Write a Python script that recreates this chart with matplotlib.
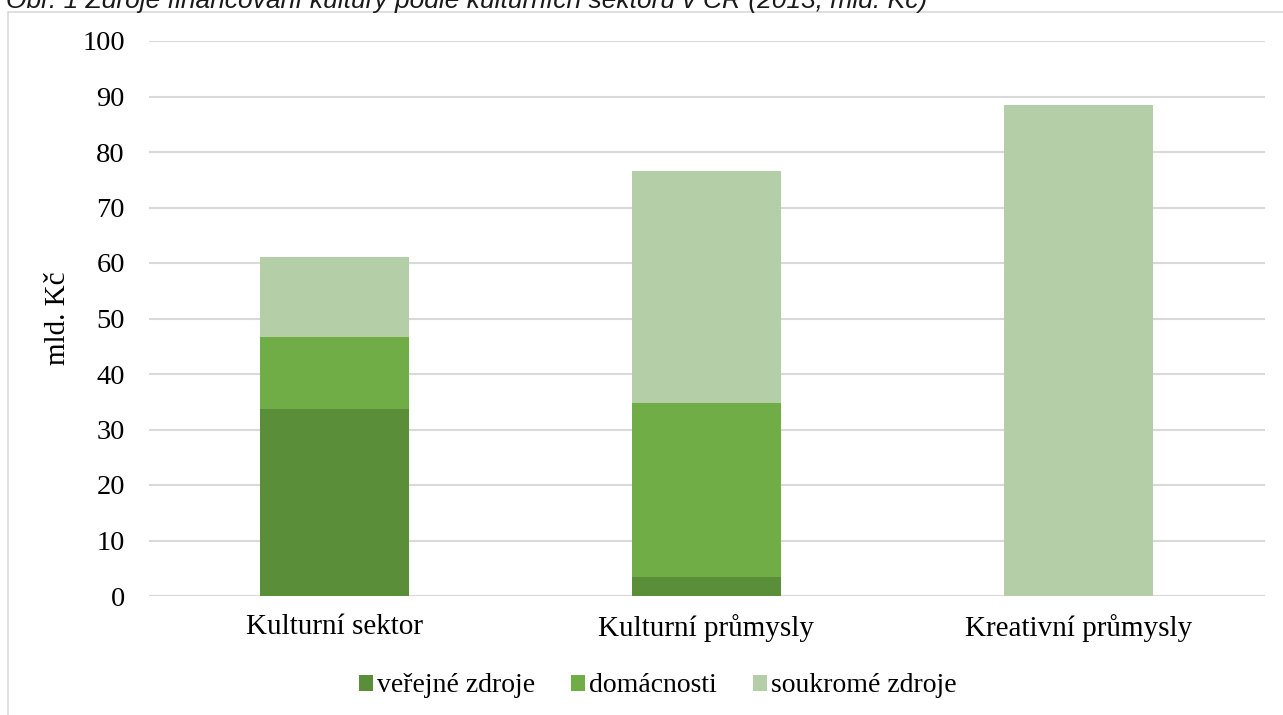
import matplotlib
matplotlib.use("Agg")
import matplotlib.pyplot as plt
from matplotlib.patches import Rectangle
import numpy as np

categories = ["Kulturní sektor", "Kulturní průmysly", "Kreativní průmysly"]
verejne = [33.7, 3.4, 0.0]
domacnosti = [13.0, 31.4, 0.0]
soukrome = [14.4, 41.7, 88.4]
series_names = ["veřejné zdroje", "domácnosti", "soukromé zdroje"]
colors = ["#5B8E38", "#70AD47", "#B4CEA8"]
yticks = list(range(0, 101, 10))

W, H = 1283, 715
fig = plt.figure(figsize=(W / 100, H / 100), dpi=100)
plt.rcParams['font.family'] = ['Liberation Serif', 'DejaVu Serif']

# outer chart frame (clipped on right/bottom)
fig.patches.append(Rectangle((8 / W, -0.1), 1.2, 1 - 11.5 / H + 0.1, transform=fig.transFigure,
                             fill=False, edgecolor="#d9d9d9", linewidth=1.2))

fig.text(6 / W, 1 - 8 / H, "Obr. 1 Zdroje financování kultury podle kulturních sektorů v ČR (2013, mld. Kč)",
         family=["Liberation Sans", "DejaVu Sans"], style="italic", fontsize=19, color="#1a1a1a",
         ha="left", va="baseline")

ax = fig.add_axes([148.5 / W, 1 - 596 / H, (1264.5 - 148.5) / W, (596 - 41) / H])
x = np.arange(len(categories))
w = 0.4
b1 = np.array(verejne)
b2 = b1 + np.array(domacnosti)
ax.bar(x, verejne, w, color=colors[0], label=series_names[0], zorder=3)
ax.bar(x, domacnosti, w, bottom=b1, color=colors[1], label=series_names[1], zorder=3)
ax.bar(x, soukrome, w, bottom=b2, color=colors[2], label=series_names[2], zorder=3)

ax.set_xlim(-0.5, 2.5)
ax.set_ylim(0, 100)
ax.set_yticks(yticks)
ax.set_xticks(x)
ax.set_xticklabels(categories)
ax.tick_params(axis="both", length=0, colors="black")
ax.tick_params(axis="x", labelsize=21, pad=13)
ax.tick_params(axis="y", labelsize=20.5, pad=17)
ax.yaxis.grid(True, color="#d9d9d9", linewidth=1.5, zorder=0)
for s in ax.spines.values():
    s.set_visible(False)
ax.axhline(0, color="#d9d9d9", linewidth=1.5, zorder=2)
ax.set_ylabel("mld. Kč", fontsize=21, labelpad=8)

fig.legend(loc="center", bbox_to_anchor=(658 / W, 1 - 686 / H), ncol=3, frameon=False,
           fontsize=20, handlelength=0.5, handleheight=0.5, handletextpad=0.15, columnspacing=1.3)

fig.savefig("out.png", dpi=100)
